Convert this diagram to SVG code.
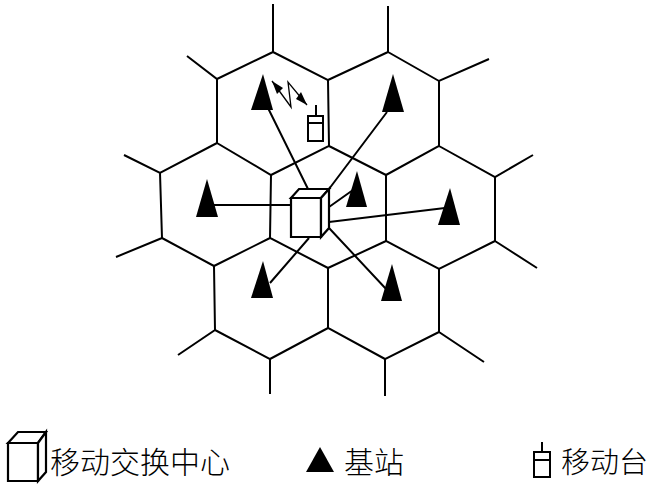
<svg xmlns="http://www.w3.org/2000/svg" width="653" height="491" viewBox="0 0 653 491">
<style>
.c{fill:none;stroke:#000;stroke-width:2;stroke-linejoin:miter}
.l{fill:none;stroke:#000;stroke-width:2}
.t{fill:#000;stroke:none}
.b{fill:#fff;stroke:#000;stroke-width:2.2}
.m{fill:#fff;stroke:#000;stroke-width:2}
text{font-family:"Noto Sans CJK SC","Noto Sans CJK JP",sans-serif;font-weight:300;fill:#000;font-size:30px}
</style>
<rect width="653" height="491" fill="#fff"/>
<g id="cells">
<path class="c" d="M273 4V52L217 79L187 56M217 79V143L271 175L329 146L328 80L273 52M328 80L388 52V6M388 52L439 81L489 59M439 81V146L386 175L329 146M439 146L495 177L533 155M495 177V241L537 268M495 241L439 269L386 241V175M439 269V332L484 362M439 332L385 359V396M385 359L328 328V268L386 241M328 268L270 238L271 175M217 143L160 173L124 155M160 173L162 238L116 257M162 238L214 266L270 238M214 266L215 330L178 355M215 330L270 359V394M270 359L328 328"/>
</g>
<g id="connectors">
<path class="l" d="M268 108L308 189M387 112L329 189M353 190L329 207M445 208L329 222M212 205H291M309 238L270 283M329 228L387 290"/>
</g>
<g id="base-stations">
<path id="bs1" class="t" d="M263 74L273 110H251Z"/>
<path id="bs2" class="t" d="M393 74L404 112H382Z"/>
<path id="bs3" class="t" d="M357 171L367 207H346Z"/>
<path id="bs4" class="t" d="M450 188L460 225H438Z"/>
<path id="bs5" class="t" d="M207 179L218 217H196Z"/>
<path id="bs6" class="t" d="M263 261L273 298H251Z"/>
<path id="bs7" class="t" d="M392 264L402 301H381Z"/>
</g>
<g id="msc">
<path class="b" d="M291 198H321V237H291Z"/>
<path class="b" d="M291 198L299 189H329L321 198Z"/>
<path class="b" d="M321 198L329 189V228L321 237Z"/>
</g>
<g id="mobile">
<path class="m" d="M316 105V116M308 116H323V141H308ZM308 123H323"/>
</g>
<g id="radio-link">
<path d="M272 81L291 107L288 82L307 105" fill="none" stroke="#000" stroke-width="1.3"/>
<path class="t" d="M272 81L277 94L283 88Z"/>
<path class="t" d="M307 105L296 99L301 92Z"/>
</g>
<g id="legend-msc">
<path class="b" d="M8 443H38V481H8Z"/>
<path class="b" d="M8 443L18 432H46L38 443Z"/>
<path class="b" d="M38 443L46 432V472L38 481Z"/>
<text x="50" y="473">移动交换中心</text>
</g>
<g id="legend-bs">
<path class="t" d="M320 447L334 472H306Z"/>
<text x="344" y="473">基站</text>
</g>
<g id="legend-mobile">
<path class="m" d="M542 442V452M534 452H550V477H534ZM534 460H550"/>
<text x="561" y="473" style="font-size:29px">移动台</text>
</g>
</svg>
